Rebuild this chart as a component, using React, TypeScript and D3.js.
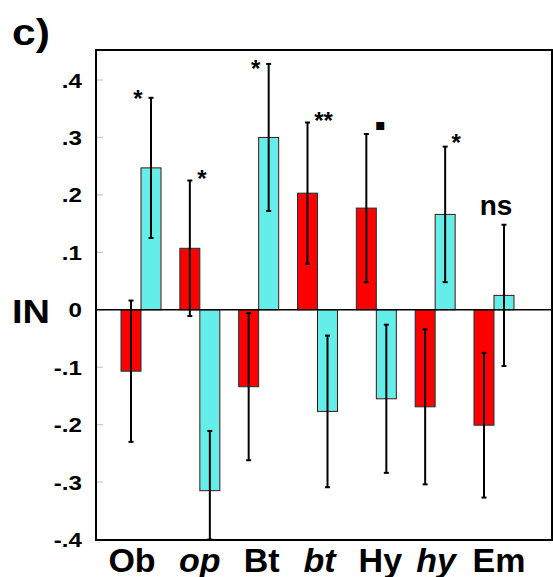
import React from "react";
import * as d3 from "d3";

const categories = ["Ob", "op", "Bt", "bt", "Hy", "hy", "Em"];
const italicCats = [false, true, false, true, false, true, false];
const redValues = [-0.107, 0.107, -0.134, 0.203, 0.177, -0.169, -0.201];
const redErrors = [0.123, 0.118, 0.128, 0.123, 0.129, 0.135, 0.126];
const cyanValues = [0.247, -0.315, 0.3, -0.177, -0.155, 0.166, 0.025];
const cyanErrors = [0.122, 0.104, 0.128, 0.132, 0.129, 0.118, 0.123];
const sigLabels = ["*", "*", "*", "**", "▪", "*", "ns"];
const yTicks = [0.4, 0.3, 0.2, 0.1, 0, -0.1, -0.2, -0.3, -0.4];
const yTickLabels = [".4", ".3", ".2", ".1", "0", "-.1", "-.2", "-.3", "-.4"];
const yLabel = "IN";
const panelLabel = "c)";

// layout (not data)
const W = 553, H = 577;
const frame = { left: 96, right: 552, top: 50, bottom: 540 };
const sigDx = [-13, 12, -13, 16, 14, 11, -8];
const sigDy = [-5, -8, -1, -8, -9, -10, -17];
const labelDx = [-9, 0, 3, 2, 4, 1, 5];
const FONT = "'Liberation Sans', Arial, Helvetica, sans-serif";
const RED = "#ff0000";
const CYAN = "#63eeea";

export default function App() {
  const y = d3.scaleLinear().domain([-0.4, 0.4]).range([539.5, 80]);
  const x = d3.scaleBand<string>().domain(categories).range([111.6, 523.4]).paddingInner(0).paddingOuter(0);
  const barW = 20;
  const clampV = (v: number) => Math.max(-0.4, Math.min(0.45, v));

  const bars: any[] = [];
  categories.forEach((c, i) => {
    const cx = (x(c) as number) + x.bandwidth() / 2;
    bars.push({ i, x0: cx - barW, v: redValues[i], e: redErrors[i], fill: RED, stroke: "#0d3a3a" });
    bars.push({ i, x0: cx, v: cyanValues[i], e: cyanErrors[i], fill: CYAN, stroke: "#4a1010" });
  });

  return (
    <svg width={W} height={H} style={{ position: "absolute", left: 0, top: 0, background: "#fff" }} fontFamily={FONT}>
      <rect x={0} y={0} width={W} height={H} fill="#fff" />
      {/* ticks */}
      {yTicks.map((t, k) => (
        <g key={k}>
          <line x1={frame.left} x2={frame.left + 7} y1={y(t)} y2={y(t)} stroke="#c8c8c8" strokeWidth={1.2} />
          <text
            transform={`translate(82,${y(t)}) scale(1.15,1)`}
            textAnchor="end"
            dy="0.36em"
            fontSize={21}
            fontWeight="bold"
          >
            {yTickLabels[k]}
          </text>
        </g>
      ))}
      {/* bars */}
      {bars.map((b, k) => {
        const y0 = y(0), y1 = y(b.v);
        return (
          <rect
            key={k}
            x={b.x0}
            y={Math.min(y0, y1)}
            width={barW}
            height={Math.abs(y1 - y0)}
            fill={b.fill}
            stroke={b.stroke}
            strokeWidth={1}
          />
        );
      })}
      {/* zero line */}
      <line x1={frame.left} x2={frame.right} y1={y(0)} y2={y(0)} stroke="#000" strokeWidth={1.6} />
      {/* error bars */}
      {bars.map((b, k) => {
        const cx = b.x0 + barW / 2;
        const yt = y(clampV(b.v + b.e));
        const yb = y(clampV(b.v - b.e));
        return (
          <g key={k} stroke="#000">
            <line x1={cx} x2={cx} y1={yt} y2={yb} strokeWidth={2} />
            <line x1={cx - 2.5} x2={cx + 2.5} y1={yt} y2={yt} strokeWidth={2} />
            <line x1={cx - 2.5} x2={cx + 2.5} y1={yb} y2={yb} strokeWidth={2} />
          </g>
        );
      })}
      {/* significance labels */}
      {categories.map((c, i) => {
        const cx = (x(c) as number) + x.bandwidth() / 2;
        const rTop = y(redValues[i] + redErrors[i]);
        const cTop = y(cyanValues[i] + cyanErrors[i]);
        const useRed = rTop < cTop;
        const ax = useRed ? cx - barW / 2 : cx + barW / 2;
        const ay = Math.min(rTop, cTop);
        const lx = ax + sigDx[i];
        const ly = ay + sigDy[i];
        const lab = sigLabels[i];
        if (lab === "ns") {
          return (
            <text key={i} x={lx} y={ly + 7.5} textAnchor="middle" fontSize={28} fontWeight="bold">
              {lab}
            </text>
          );
        }
        if (lab === "▪") {
          return (
            <text key={i} x={lx} y={ly + 5} textAnchor="middle" fontSize={16} fontWeight="bold" fontFamily="DejaVu Sans">
              {lab}
            </text>
          );
        }
        return (
          <text key={i} x={lx} y={ly + 14} textAnchor="middle" fontSize={24} fontWeight="bold">
            {lab}
          </text>
        );
      })}
      {/* frame */}
      <rect
        x={frame.left}
        y={frame.top}
        width={frame.right - frame.left}
        height={frame.bottom - frame.top}
        fill="none"
        stroke="#000"
        strokeWidth={2}
      />
      {/* x labels */}
      {categories.map((c, i) => (
        <text
          key={c}
          x={(x(c) as number) + x.bandwidth() / 2 + labelDx[i]}
          y={572}
          textAnchor="middle"
          fontSize={34}
          fontWeight="bold"
          fontStyle={italicCats[i] ? "italic" : "normal"}
        >
          {c}
        </text>
      ))}
      {/* y label */}
      <text x={12} y={323} fontSize={34} fontWeight="bold" textLength={38} lengthAdjust="spacingAndGlyphs">
        {yLabel}
      </text>
      {/* panel label */}
      <text transform="translate(12,45) scale(1.15,1)" fontSize={37} fontWeight="bold">
        {panelLabel}
      </text>
    </svg>
  );
}
